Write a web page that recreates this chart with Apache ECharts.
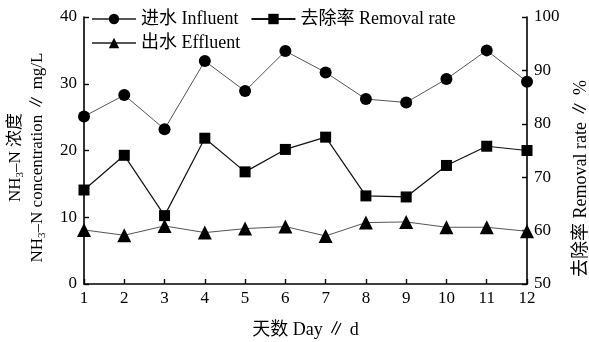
<!DOCTYPE html>
<html><head><meta charset="utf-8">
<script src="https://cdn.jsdelivr.net/npm/echarts@6/dist/echarts.min.js"></script>
<style>html,body{margin:0;padding:0;background:#fff}#c{width:589px;height:342px}</style>
</head><body><div id="c"></div>
<script>
const days = ['1','2','3','4','5','6','7','8','9','10','11','12'];
const influent = [25.1, 28.3, 23.2, 33.4, 28.9, 34.9, 31.7, 27.7, 27.2, 30.7, 35.0, 30.3];
const effluent = [8.1, 7.3, 8.7, 7.7, 8.3, 8.6, 7.2, 9.2, 9.3, 8.5, 8.5, 7.9];
const removal = [67.6, 74.1, 62.8, 77.3, 71.0, 75.2, 77.5, 66.5, 66.3, 72.2, 75.8, 75.0];
const leftTicks = [0, 40, 10];
const rightTicks = [50, 100, 10];

const FONT = "'Liberation Serif', 'Noto Sans CJK SC', serif";
const FS = 17;
const chart = echarts.init(document.getElementById('c'), null, {renderer: 'canvas'});
const axisCommon = {
  axisLine: {show: true, lineStyle: {color: '#000', width: 1.6}},
  axisTick: {show: true, inside: true, length: 5, lineStyle: {color: '#000', width: 1.4}},
  splitLine: {show: false},
  axisLabel: {color: '#000', fontSize: FS, fontFamily: FONT}
};
chart.setOption({
  animation: false,
  backgroundColor: '#fff',
  textStyle: {fontFamily: FONT, color: '#000'},
  grid: {left: 84, right: 62, top: 17, bottom: 58, containLabel: false, outerBoundsMode: 'none'},
  legend: [{
    left: 86, top: 5, itemWidth: 44, itemHeight: 13, itemGap: 12,
    textStyle: {fontSize: 18, color: '#000', fontFamily: FONT},
    data: ['进水 Influent', '去除率 Removal rate']
  }, {
    left: 86, top: 29, itemWidth: 44, itemHeight: 13,
    textStyle: {fontSize: 18, color: '#000', fontFamily: FONT},
    data: ['出水 Effluent']
  }],
  xAxis: Object.assign({}, axisCommon, {
    type: 'category', data: days, boundaryGap: false,
    axisTick: {show: true, inside: true, length: 5, alignWithLabel: true, lineStyle: {color: '#000', width: 1.4}},
    axisLabel: {color: '#000', fontSize: FS, fontFamily: FONT, margin: 6},
    name: '天数 Day ∥ d', nameLocation: 'middle', nameGap: 37,
    nameTextStyle: {fontSize: 18, color: '#000', fontFamily: FONT}
  }),
  yAxis: [Object.assign({}, axisCommon, {
    type: 'value', min: leftTicks[0], max: leftTicks[1], interval: leftTicks[2], position: 'left',
    axisLabel: {color: '#000', fontSize: FS, fontFamily: FONT, margin: 7},
    name: '{a|NH}{s|3}{a|–N 浓度}\n{a|NH}{s|3}{a|–N concentration ∥ mg/L}',
    nameLocation: 'middle', nameGap: 35, nameRotate: 90,
    nameTextStyle: {
      fontFamily: FONT, color: '#000', padding: [0, 14, 0, 0],
      rich: {
        a: {fontSize: 17, fontFamily: FONT, color: '#000', lineHeight: 22},
        s: {fontSize: 11, fontFamily: FONT, color: '#000', lineHeight: 22, padding: [8, 0, 0, 0]}
      }
    }
  }), Object.assign({}, axisCommon, {
    type: 'value', min: rightTicks[0], max: rightTicks[1], interval: rightTicks[2], position: 'right',
    axisLabel: {color: '#000', fontSize: FS, fontFamily: FONT, margin: 7},
    name: '去除率 Removal rate ∥ %', nameLocation: 'middle', nameGap: 45, nameRotate: 90,
    nameTextStyle: {fontSize: 18, color: '#000', fontFamily: FONT, padding: [0, 56, 0, 0]}
  })],
  series: [{
    name: '进水 Influent', type: 'line', data: influent, yAxisIndex: 0,
    symbol: 'circle', symbolSize: 12,
    lineStyle: {color: '#555', width: 1}, itemStyle: {color: '#000'}
  }, {
    name: '去除率 Removal rate', type: 'line', data: removal, yAxisIndex: 1,
    symbol: 'rect', symbolSize: 11,
    lineStyle: {color: '#111', width: 1.2}, itemStyle: {color: '#000'}
  }, {
    name: '出水 Effluent', type: 'line', data: effluent, yAxisIndex: 0,
    symbol: 'triangle', symbolSize: 14,
    lineStyle: {color: '#555', width: 1}, itemStyle: {color: '#000'}
  }]
});
</script></body></html>
